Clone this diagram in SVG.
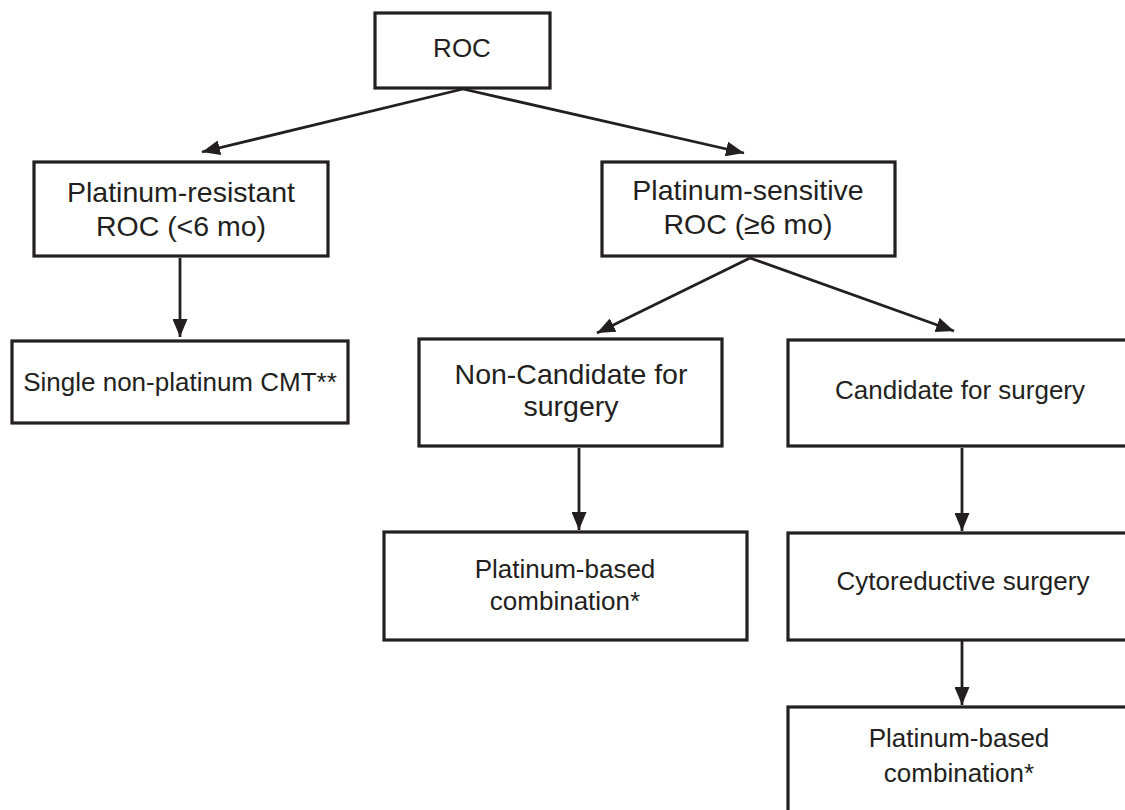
<svg xmlns="http://www.w3.org/2000/svg" width="1125" height="810" viewBox="0 0 1125 810">
<style>
.box{fill:#fff;stroke:#231f20;stroke-width:3.2}
.t{font-family:"Liberation Sans",Arial,sans-serif;fill:#231f20;text-anchor:middle}
.s{font-size:26px}
.b{font-size:28.5px}
.c{fill:none;stroke:#231f20;stroke-width:2.8}
</style>
<defs>
<marker id="ah" markerUnits="userSpaceOnUse" markerWidth="18" markerHeight="15" refX="18" refY="7.5" orient="auto">
<path d="M0,0 L18,7.5 L0,15 z" fill="#231f20"/>
</marker>
</defs>
<rect width="1125" height="810" fill="#fff"/>
<g id="connectors">
<path class="c" marker-end="url(#ah)" d="M463,89 L202,152"/>
<path class="c" marker-end="url(#ah)" d="M463,89 L744,153"/>
<path class="c" marker-end="url(#ah)" d="M180,258 L180,337"/>
<path class="c" marker-end="url(#ah)" d="M750,258 L597,333"/>
<path class="c" marker-end="url(#ah)" d="M750,258 L954,331"/>
<path class="c" marker-end="url(#ah)" d="M579,448 L579,530"/>
<path class="c" marker-end="url(#ah)" d="M962,448 L962,531"/>
<path class="c" marker-end="url(#ah)" d="M962,641 L962,705"/>
</g>
<g id="roc">
<rect class="box" x="375" y="13" width="175" height="75"/>
<text class="t s" x="462" y="57">ROC</text>
</g>
<g id="resistant">
<rect class="box" x="34" y="162" width="294" height="94"/>
<text class="t b" x="181" y="202">Platinum-resistant</text>
<text class="t b" x="181" y="236">ROC (&lt;6 mo)</text>
</g>
<g id="single">
<rect class="box" x="12" y="341" width="336" height="82"/>
<text class="t s" x="180" y="391">Single non-platinum CMT**</text>
</g>
<g id="sensitive">
<rect class="box" x="602" y="162" width="293" height="94"/>
<text class="t b" x="748" y="200">Platinum-sensitive</text>
<text class="t b" x="748" y="234">ROC (≥6 mo)</text>
</g>
<g id="noncandidate">
<rect class="box" x="419" y="339" width="303" height="107"/>
<text class="t b" x="571" y="384">Non-Candidate for</text>
<text class="t b" x="571" y="416">surgery</text>
</g>
<g id="platbased1">
<rect class="box" x="384" y="532" width="363" height="108"/>
<text class="t s" x="565" y="578">Platinum-based</text>
<text class="t s" x="565" y="610">combination*</text>
</g>
<g id="candidate">
<rect class="box" x="788" y="340" width="360" height="106"/>
<text class="t s" x="960" y="399">Candidate for surgery</text>
</g>
<g id="cytoreductive">
<rect class="box" x="788" y="533" width="360" height="107"/>
<text class="t s" x="963" y="590">Cytoreductive surgery</text>
</g>
<g id="platbased2">
<rect class="box" x="788" y="707" width="360" height="120"/>
<text class="t s" x="959" y="747">Platinum-based</text>
<text class="t s" x="959" y="782">combination*</text>
</g>
</svg>
